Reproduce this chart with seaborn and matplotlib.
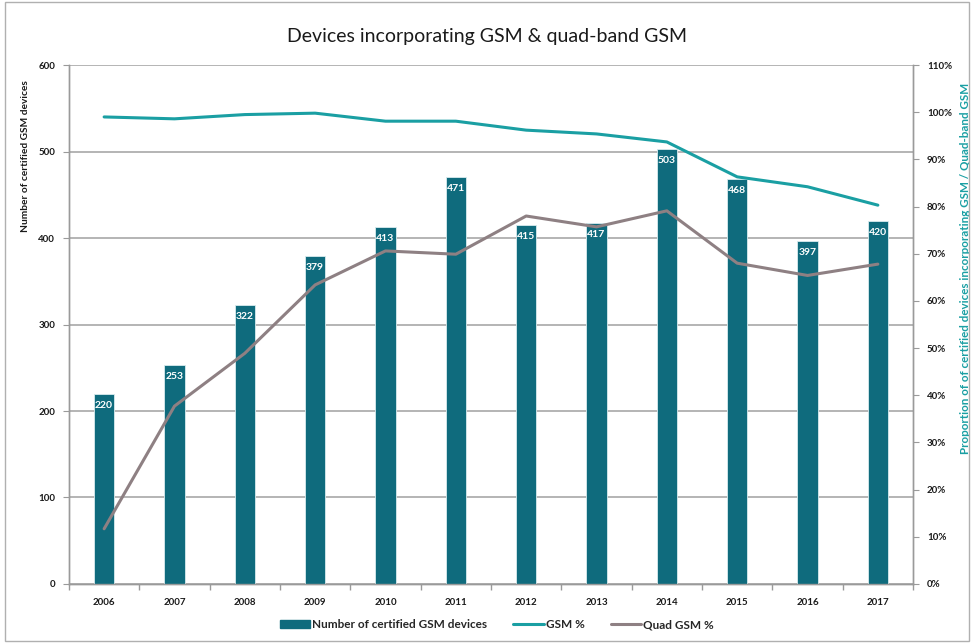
import numpy as np
import pandas as pd
import matplotlib
matplotlib.use("Agg")
import matplotlib.pyplot as plt
import seaborn as sns
from matplotlib.patches import Rectangle, Patch
from matplotlib.lines import Line2D
from matplotlib.ticker import FuncFormatter

years = ["2006", "2007", "2008", "2009", "2010", "2011", "2012", "2013", "2014", "2015", "2016", "2017"]
devices = [220, 253, 322, 379, 413, 471, 415, 417, 503, 468, 397, 420]
gsm_pct = [99.0, 98.6, 99.5, 99.8, 98.1, 98.1, 96.2, 95.4, 93.7, 86.3, 84.2, 80.3]
quad_pct = [11.7, 37.7, 48.9, 63.4, 70.6, 69.9, 78.0, 75.7, 79.1, 68.0, 65.4, 67.8]

sns.set_theme(style="white")
plt.rcParams["font.family"] = ["Lato", "DejaVu Sans"]

BAR = "#0f6b7d"
GSM = "#1a9fa3"
QUAD = "#8e8083"
GRID = "#a8a8a8"

df = pd.DataFrame({"year": years, "devices": devices, "gsm": gsm_pct, "quad": quad_pct})
df["pos"] = np.arange(len(years))

fig = plt.figure(figsize=(9.74, 6.44), dpi=100)
ax = fig.add_axes([0.0708, 0.0932, 0.8666, 0.8058])

sns.barplot(data=df, x="year", y="devices", ax=ax, color=BAR, width=0.29,
            saturation=1, edgecolor="#d9ecef", linewidth=0.6, zorder=3)
ax.set_ylim(0, 600)
ax.set_xlim(-0.5, len(years) - 0.5)
ax.set_yticks(range(0, 601, 100))
ax.yaxis.grid(True, color=GRID, linewidth=1.2, zorder=0)
ax.set_axisbelow(True)
ax.set_xlabel("")
ax.set_ylabel("Number of certified GSM devices", fontsize=7.3, fontweight="bold", color="#1a1a1a")
ax.yaxis.set_label_coords(-0.046, 0.825)

for p, v in zip(ax.patches, devices):
    ax.text(p.get_x() + p.get_width() / 2, v - 8, str(v), ha="center", va="top",
            color="white", fontsize=7.5, fontweight="bold", zorder=5)

ax2 = ax.twinx()
sns.lineplot(data=df, x="pos", y="gsm", ax=ax2, color=GSM, linewidth=2.2)
sns.lineplot(data=df, x="pos", y="quad", ax=ax2, color=QUAD, linewidth=2.2)
ax2.set_ylim(0, 110)
ax2.set_xlim(-0.5, len(years) - 0.5)
ax2.set_yticks(range(0, 111, 10))
ax2.yaxis.set_major_formatter(FuncFormatter(lambda v, _: f"{int(v)}%"))
ax2.set_ylabel("Proportion of of certified devices incorporating GSM / Quad-band GSM",
               fontsize=8.4, fontweight="bold", color=GSM)
ax2.yaxis.set_label_coords(1.056, 0.609)
ax2.set_xlabel("")
ax2.grid(False)

for a in (ax, ax2):
    for s in a.spines.values():
        s.set_color("#9a9a9a")
        s.set_linewidth(1.0)
    a.spines["top"].set_visible(False)
    a.tick_params(axis="both", labelsize=7, colors="#1a1a1a", length=4, width=0.8)
    for lab in a.get_yticklabels() + a.get_xticklabels():
        lab.set_fontweight("bold")

ax.tick_params(axis="y", direction="out", color="#9a9a9a", left=True, pad=6)
ax2.tick_params(axis="y", direction="out", color="#9a9a9a", right=True, pad=6)
ax.tick_params(axis="x", bottom=False, pad=6)
ax.set_xticks(np.arange(-0.5, len(years), 1.0), minor=True)
ax.tick_params(axis="x", which="minor", bottom=True, length=4, color="#9a9a9a", direction="out")

fig.text(0.5, 0.943, "Devices incorporating GSM & quad-band GSM", ha="center", va="center",
         fontsize=14, color="#1a1a1a")

handles = [Patch(facecolor=BAR, edgecolor=BAR),
           Line2D([0], [0], color=GSM, lw=2.2),
           Line2D([0], [0], color=QUAD, lw=2.2)]
labels = ["Number of certified GSM devices", "GSM %", "Quad GSM %"]
fig.legend(handles, labels, loc="center", bbox_to_anchor=(0.51, 0.03), ncol=3, frameon=False,
           prop={"size": 8.5, "weight": "bold"}, handlelength=2.6, columnspacing=2.2, handletextpad=0.15)

fig.patches.append(Rectangle((0.005, 0.004), 0.99, 0.993, transform=fig.transFigure,
                             fill=False, edgecolor="#b0b0b0", linewidth=1.0))

fig.savefig("out.png", dpi=100)
